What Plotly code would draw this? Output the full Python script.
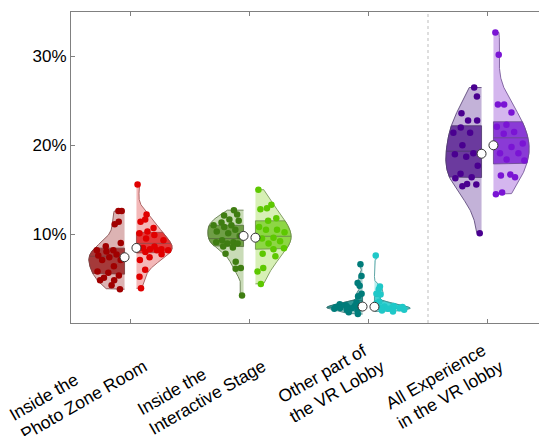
import numpy as np
import plotly.graph_objects as go

# ---------------- data (percent) ----------------
categories = ["Inside the<br>Photo Zone Room", "Inside the<br>Interactive Stage",
              "Other part of<br>the VR Lobby", "All Experience<br>in the VR lobby"]

photo_left = [12.6, 12.6, 11.1, 11.4, 9.0, 8.65, 8.2, 8.2, 8.05, 7.7, 7.6, 7.4, 7.1, 7.1,
              6.4, 5.8, 5.65, 5.35, 5.1, 4.8, 4.8, 4.25, 3.8]
photo_right = [15.6, 12.2, 11.65, 11.4, 10.7, 10.3, 10.1, 9.9, 9.5, 9.3, 8.6, 8.45, 8.3, 8.3,
               8.2, 8.2, 8.0, 7.75, 7.4, 7.1, 6.0, 5.2, 3.9]
stage_left = [12.7, 12.2, 12.1, 11.65, 11.5, 11.3, 11.0, 11.0, 10.8, 10.5, 10.3, 10.1, 9.8,
              9.3, 9.1, 9.1, 8.95, 8.95, 8.6, 8.5, 7.8, 6.9, 6.2, 6.1, 3.1]
stage_right = [15.0, 13.3, 12.9, 12.8, 11.8, 11.5, 10.8, 10.5, 10.5, 10.2, 9.6, 9.5, 9.2,
               8.95, 8.4, 8.3, 7.8, 7.5, 6.2, 5.8, 4.4]
other_left = [6.6, 5.3, 4.5, 4.2, 3.3, 3.0, 2.3, 2.1, 2.0, 1.9, 1.8, 1.8, 1.8, 1.7, 1.65,
              1.6, 1.5, 1.4, 1.2, 1.0]
other_right = [7.6, 4.1, 3.8, 3.3, 3.2, 2.4, 2.2, 1.9, 1.85, 1.8, 1.75, 1.7, 1.65, 1.6, 1.5,
               1.46, 1.4, 1.3]
all_left = [26.5, 25.5, 23.6, 22.8, 22.8, 22.0, 21.4, 21.4, 20.0, 19.1, 19.0, 18.7, 17.7,
            16.8, 16.4, 16.3, 15.65, 15.6, 15.4, 10.1]
all_right = [32.7, 30.2, 24.6, 24.6, 23.7, 22.3, 22.1, 21.5, 21.3, 20.2, 19.8, 19.1, 19.1,
             18.4, 18.3, 16.7, 16.6, 16.4, 14.7, 14.5]

left_series = [photo_left, stage_left, other_left, all_left]
right_series = [photo_right, stage_right, other_right, all_right]

y_ticks = [10, 20, 30]
y_tick_labels = ["10%", "20%", "30%"]

# ---------------- styles ----------------
point_L = ["#a00000", "#3f7d12", "#007c7a", "#4a0090"]
light_L = ["#dcb3b3", "#c9dbb7", "#a9cfce", "#c3b2d8"]
band_L = ["#a53a3a", "#6f9e46", "#2f9896", "#6b3a9e"]
edge_L = ["#7a4040", "#56703c", "#2d6e6c", "#4f3a6e"]

point_R = ["#e00000", "#5dc800", "#1fc8c8", "#7a14d4"]
light_R = ["#f4b8b8", "#d7f0b5", "#b5eded", "#d4b6ee"]
band_R = ["#e23b3b", "#8dd645", "#40d3d3", "#8a3ad6"]
edge_R = ["#9a4a4a", "#6b8c48", "#3a8f8f", "#6a4a8e"]

GAP = 0.05
HALF_W = 0.30


def kde(vals, ys):
    v = np.asarray(vals, dtype=float)
    n = len(v)
    sig = np.median(np.abs(v - np.median(v))) / 0.6745
    if sig <= 0:
        sig = v.std()
    h = sig * (4.0 / (3.0 * n)) ** 0.2
    return np.exp(-0.5 * ((ys[:, None] - v[None, :]) / h) ** 2).sum(1)


fig = go.Figure()


def add_half(c, vals, side, light, band, edge, pcol):
    v = np.asarray(vals, dtype=float)
    lo, hi = v.min(), v.max()
    ys = np.linspace(lo, hi, 300)
    d = kde(v, ys)
    dmax = d.max()
    w = d / dmax * HALF_W
    sgn = -1 if side == "L" else 1
    base = c + sgn * GAP

    xs = np.concatenate([[base], base + sgn * w, [base]])
    yy = np.concatenate([[lo], ys, [hi]])
    fig.add_trace(go.Scatter(x=xs, y=yy, mode="lines", fill="toself", fillcolor=light,
                             line=dict(color=edge, width=0.8), hoverinfo="skip", showlegend=False))
    q1, med, q3 = np.percentile(v, [25, 50, 75])
    yb = np.linspace(q1, q3, 120)
    wb = kde(v, yb) / dmax * HALF_W
    xb = np.concatenate([[base], base + sgn * wb, [base], [base]])
    ybb = np.concatenate([[q1], yb, [q3], [q1]])
    fig.add_trace(go.Scatter(x=xb, y=ybb, mode="lines", fill="toself", fillcolor=band,
                             line=dict(color=edge, width=0.8), hoverinfo="skip", showlegend=False))
    mean = v.mean()
    wm = kde(v, np.array([mean]))[0] / dmax * HALF_W
    fig.add_trace(go.Scatter(x=[base, base + sgn * wm], y=[mean, mean], mode="lines",
                             line=dict(color=edge, width=0.9), hoverinfo="skip", showlegend=False))
    wp = kde(v, v) / dmax * HALF_W
    k = np.arange(len(v)) + (1 if side == "L" else 7)
    u = np.mod(k * 0.6180339887, 1.0)
    px = base + sgn * (0.08 + 0.84 * u) * wp
    fig.add_trace(go.Scatter(x=px, y=v, mode="markers",
                             marker=dict(size=6.5, color=pcol, line=dict(width=0)),
                             hoverinfo="skip", showlegend=False))
    return base, med


for i in range(4):
    c = i + 1
    bL, mL = add_half(c, left_series[i], "L", light_L[i], band_L[i], edge_L[i], point_L[i])
    bR, mR = add_half(c, right_series[i], "R", light_R[i], band_R[i], edge_R[i], point_R[i])
    fig.add_trace(go.Scatter(x=[bL, bR], y=[mL, mR], mode="markers",
                             marker=dict(size=9, color="white", line=dict(color="#333333", width=1)),
                             hoverinfo="skip", showlegend=False))

fig.add_shape(type="line", x0=3.5, x1=3.5, y0=0, y1=1, xref="x", yref="paper",
              line=dict(color="#bdbdbd", width=1, dash="dot"))

for i, lab in enumerate(categories):
    fig.add_annotation(x=i + 1 + 0.165, y=-0.042, xref="x", yref="paper", text=lab,
                       showarrow=False, textangle=-30, align="left",
                       xanchor="right", yanchor="top", borderpad=0, borderwidth=0,
                       font=dict(family="Liberation Sans, Arial, sans-serif", size=17.5, color="black"))

# page body has an 8px margin: figure sized so the plot lands at the reference pixels
fig.update_layout(
    width=539, height=428,
    margin=dict(l=63, r=0, t=4, b=113),
    paper_bgcolor="white", plot_bgcolor="white",
    font=dict(family="Liberation Sans, Arial, sans-serif", size=17, color="black"),
    showlegend=False,
)
fig.update_xaxes(range=[0.5, 4.5], tickvals=[1, 2, 3, 4], showticklabels=False,
                 ticks="inside", ticklen=4, tickcolor="#808080",
                 showline=True, linecolor="#808080", linewidth=1, mirror="ticks",
                 showgrid=False, zeroline=False)
fig.update_yaxes(range=[0, 35], tickvals=y_ticks, ticktext=y_tick_labels,
                 ticks="inside", ticklen=4, tickcolor="#808080",
                 showline=True, linecolor="#808080", linewidth=1, mirror=False,
                 showgrid=False, zeroline=False,
                 tickfont=dict(size=17, color="black"))

fig.write_html("out.html")
